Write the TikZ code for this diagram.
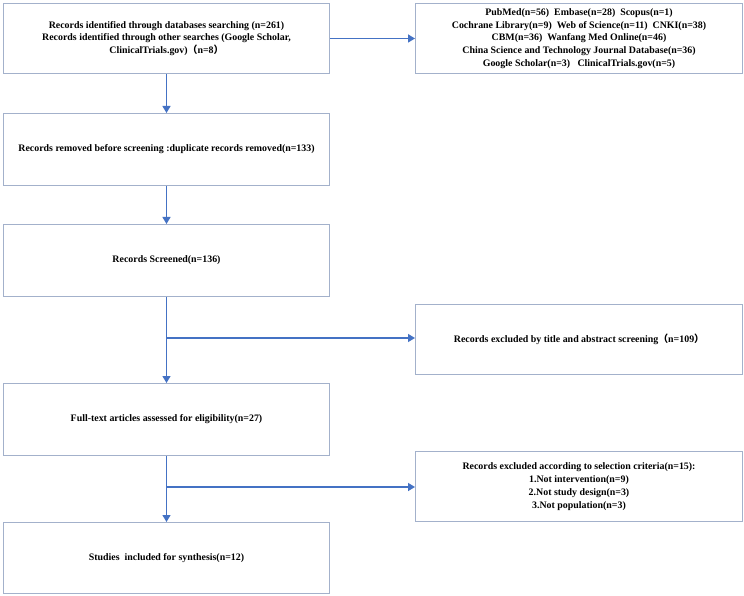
\documentclass[tikz,border=0pt]{standalone}
\usepackage{fontspec}
\setmainfont{Liberation Serif}
\newfontfamily\cjk{Noto Sans CJK SC}
\usetikzlibrary{arrows.meta}
\definecolor{flow}{HTML}{4472C4}
\definecolor{boxline}{HTML}{A3B1CB}
\newcommand{\lp}{{\cjk （}}
\newcommand{\rp}{{\cjk ）}}
\begin{document}
\begin{tikzpicture}[x=1pt,y=-1pt,
  box/.style={draw=boxline,line width=1pt,fill=white,align=center,font=\bfseries\fontsize{9.9}{12.8}\selectfont,inner sep=0pt,anchor=north west},
  flowline/.style={draw=flow,line width=1.4pt},
  flowarrow/.style={flowline,-{Triangle[length=7pt,width=8pt]}}]
\useasboundingbox (0,0) rectangle (744,596);
\fill[white] (0,0) rectangle (744,596);
\node[box,minimum width=326pt,minimum height=70pt] (b1) at (3,3)
  {Records identified through databases searching (n=261)\\Records identified through other searches (Google Scholar,\\ClinicalTrials.gov)\lp n=8\rp};
\node[box,minimum width=327pt,minimum height=70pt] (r1) at (415,3)
  {PubMed(n=56)\ \ Embase(n=28)\ \ Scopus(n=1)\\Cochrane Library(n=9)\ \ Web of Science(n=11)\ \ CNKI(n=38)\\CBM(n=36)\ \ Wanfang Med Online(n=46)\\China Science and Technology Journal Database(n=36)\\Google Scholar(n=3)\ \ \ ClinicalTrials.gov(n=5)};
\node[box,minimum width=326pt,minimum height=72pt] (b2) at (3,113)
  {Records removed before screening :duplicate records removed(n=133)};
\node[box,minimum width=326pt,minimum height=72pt] (b3) at (3,224)
  {Records Screened(n=136)};
\node[box,minimum width=327pt,minimum height=70pt] (r2) at (415,304)
  {Records excluded by title and abstract screening\lp n=109\rp};
\node[box,minimum width=326pt,minimum height=72pt] (b4) at (3,383)
  {Full-text articles assessed for eligibility(n=27)};
\node[box,minimum width=327pt,minimum height=70pt] (r3) at (415,451)
  {Records excluded according to selection criteria(n=15):\\1.Not intervention(n=9)\\2.Not study design(n=3)\\3.Not population(n=3)};
\node[box,minimum width=326pt,minimum height=71pt] (b5) at (3,522)
  {Studies\ \ included for synthesis(n=12)};
\coordinate (j1) at (166,338);
\coordinate (j2) at (166,487);
\draw[flowarrow] (b1.south) -- (b2.north);
\draw[flowarrow] (b2.south) -- (b3.north);
\draw[flowarrow] (b1.east) -- (b1.east -| r1.west);
\draw[flowarrow] (b3.south) -- (b4.north);
\draw[flowarrow] (j1) -- (j1 -| r2.west);
\draw[flowarrow] (b4.south) -- (b5.north);
\draw[flowarrow] (j2) -- (j2 -| r3.west);
\end{tikzpicture}
\end{document}
